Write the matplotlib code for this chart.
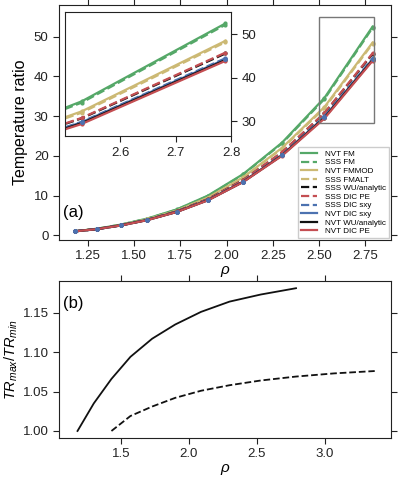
import matplotlib
matplotlib.use("Agg")
import matplotlib.pyplot as plt
from matplotlib.patches import Rectangle

# -----------------------
# Data
# -----------------------
rho = [1.18, 1.30, 1.43, 1.57, 1.73, 1.90, 2.09, 2.30, 2.53, 2.79]

nvt_fm = [1.0, 1.65, 2.7, 4.2, 6.5, 10.0, 15.4, 23.3, 34.6, 52.5]
sss_fm = [1.0, 1.65, 2.7, 4.15, 6.45, 9.9, 15.3, 23.1, 34.3, 52.2]
nvt_fmmod = [1.0, 1.6, 2.6, 4.0, 6.2, 9.5, 14.6, 22.0, 32.3, 48.5]
sss_fmalt = [1.0, 1.6, 2.6, 4.0, 6.15, 9.4, 14.5, 21.8, 32.0, 48.2]
sss_wu = [1.0, 1.58, 2.55, 3.9, 6.0, 9.1, 13.9, 20.8, 30.7, 45.6]
sss_dic_pe = [1.0, 1.58, 2.55, 3.9, 6.0, 9.1, 13.9, 20.9, 30.8, 45.8]
sss_dic_sxy = [1.0, 1.55, 2.5, 3.85, 5.9, 8.9, 13.5, 20.2, 29.9, 44.5]
nvt_dic_sxy = [1.0, 1.55, 2.5, 3.85, 5.9, 8.9, 13.5, 20.2, 29.8, 44.3]
nvt_wu = [1.0, 1.55, 2.5, 3.82, 5.88, 8.85, 13.45, 20.1, 29.6, 44.1]
nvt_dic_pe = [1.0, 1.55, 2.48, 3.8, 5.85, 8.8, 13.4, 20.0, 29.4, 43.9]

rho_nvt = rho
ratio_nvt = [1.000, 1.035, 1.066, 1.094, 1.117, 1.135, 1.151, 1.164, 1.173, 1.181]
rho_sss = [1.43, 1.57, 1.73, 1.90, 2.09, 2.30, 2.53, 2.79, 3.07, 3.37]
ratio_sss = [1.000, 1.019, 1.031, 1.042, 1.051, 1.058, 1.064, 1.069, 1.073, 1.076]

green = "#55A868"
tan = "#CCB974"
black = "#111111"
red = "#C44E52"
blue = "#4C72B0"

series = [
    ("NVT FM", nvt_fm, green, "-"),
    ("SSS FM", sss_fm, green, "--"),
    ("NVT FMMOD", nvt_fmmod, tan, "-"),
    ("SSS FMALT", sss_fmalt, tan, "--"),
    ("SSS WU/analytic", sss_wu, black, "--"),
    ("SSS DIC PE", sss_dic_pe, red, "--"),
    ("SSS DIC sxy", sss_dic_sxy, blue, "--"),
    ("NVT DIC sxy", nvt_dic_sxy, blue, "-"),
    ("NVT WU/analytic", nvt_wu, black, "-"),
    ("NVT DIC PE", nvt_dic_pe, red, "-"),
]

plt.rcParams.update({
    "font.family": ["Liberation Sans", "DejaVu Sans"],
    "font.size": 9.5,
    "mathtext.fontset": "custom",
    "mathtext.it": "Liberation Sans:italic",
    "mathtext.rm": "Liberation Sans",
    "axes.edgecolor": "#222222",
    "xtick.color": "#222222",
    "ytick.color": "#222222",
    "xtick.direction": "out",
    "ytick.direction": "out",
    "xtick.major.size": 4,
    "ytick.major.size": 4,
})

fig = plt.figure(figsize=(3.99, 4.83), dpi=100)


def draw_series(ax, with_labels):
    for label, vals, col, ls in series:
        ax.plot(rho, vals, ls=ls, color=col, lw=1.6,
                label=label if with_labels else None)
        ax.plot(rho, vals, ls="none", marker="o", ms=2.0, color=col)
    # blue markers sit on top of the red line
    ax.plot(rho, nvt_dic_sxy, ls="none", marker="o", ms=2.6, color=blue, zorder=5)


# -----------------------
# Panel (a)
# -----------------------
ax1 = fig.add_axes([0.148, 0.503, 0.832, 0.487])
draw_series(ax1, True)

ax1.set_xlim(1.094, 2.89)
ax1.set_ylim(-1.2, 58)
ax1.set_xticks([1.25, 1.50, 1.75, 2.00, 2.25, 2.50, 2.75])
ax1.set_yticks([0, 10, 20, 30, 40, 50])
ax1.tick_params(top=True, right=True, labelsize=9.5)
ax1.set_xlabel(r"$\rho$", fontsize=11, labelpad=1)
ax1.set_ylabel("Temperature ratio", fontsize=11.5, labelpad=4)
ax1.text(0.012, 0.1, "(a)", transform=ax1.transAxes, fontsize=12)

ax1.add_patch(Rectangle((2.5, 28.2), 0.3, 26.8, fill=False,
                        edgecolor="#777777", lw=1.0, zorder=6))

ax1.legend(loc="lower right", fontsize=5.8, labelspacing=0.12,
           handlelength=2.0, handletextpad=1.0, borderpad=0.4,
           borderaxespad=0.2, frameon=True, fancybox=False,
           edgecolor="#CCCCCC", framealpha=1.0)

# -----------------------
# Inset
# -----------------------
axin = fig.add_axes([0.163, 0.718, 0.416, 0.257])
draw_series(axin, False)
axin.set_xlim(2.5, 2.8)
axin.set_ylim(26.6, 55.1)
axin.set_xticks([2.6, 2.7, 2.8])
axin.set_yticks([30, 40, 50])
axin.yaxis.tick_right()
axin.tick_params(labelsize=9.5)

# -----------------------
# Panel (b)
# -----------------------
ax2 = fig.add_axes([0.148, 0.093, 0.832, 0.325])
ax2.plot(rho_nvt, ratio_nvt, color=black, lw=1.3, ls="-")
ax2.plot(rho_sss, ratio_sss, color=black, lw=1.3, ls="--")
ax2.set_xlim(1.044, 3.49)
ax2.set_ylim(0.991, 1.19)
ax2.set_xticks([1.5, 2.0, 2.5, 3.0])
ax2.set_yticks([1.00, 1.05, 1.10, 1.15])
ax2.tick_params(top=True, right=True, labelsize=9.5)
ax2.set_xlabel(r"$\rho$", fontsize=11, labelpad=1)
ax2.set_ylabel(r"$TR_{max}/TR_{min}$", fontsize=10.5, labelpad=2)
ax2.text(0.012, 0.83, "(b)", transform=ax2.transAxes, fontsize=12)

fig.savefig("out.png", dpi=100)
plt.close(fig)
